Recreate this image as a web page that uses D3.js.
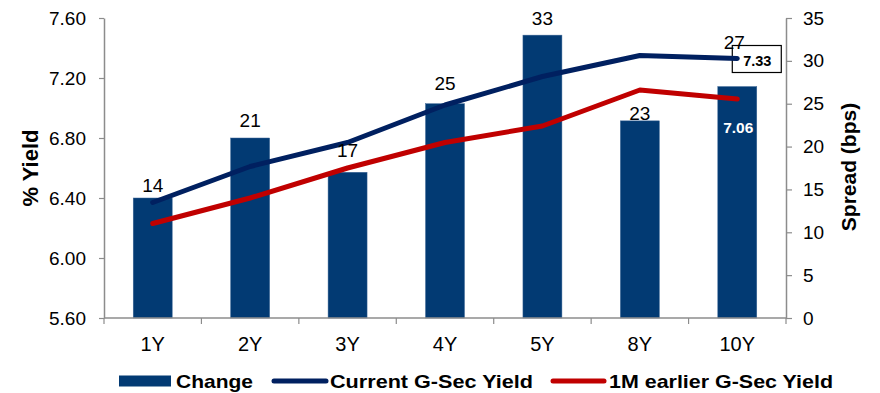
<!DOCTYPE html>
<html>
<head>
<meta charset="utf-8">
<script src="https://cdn.jsdelivr.net/npm/d3@7"></script>
<style>
  html, body { margin: 0; padding: 0; background: #fff; }
  svg { display: block; font-family: "Liberation Sans", Arial, sans-serif; }
</style>
</head>
<body>
<svg id="chart" width="880" height="393"></svg>
<script>
// Tenors along the yield curve
const tenors = ["1Y", "2Y", "3Y", "4Y", "5Y", "8Y", "10Y"];
// Change in yield over the month, basis points (bars, right axis)
const spreadBps = [14, 21, 17, 25, 33, 23, 27];
// Current G-Sec yields, % (left axis)
const currentYield = [6.37, 6.61, 6.77, 7.02, 7.21, 7.35, 7.33];
// G-Sec yields one month earlier, % (left axis)
const earlierYield = [6.23, 6.40, 6.60, 6.77, 6.88, 7.12, 7.06];
// Axis ticks
const yieldTicks = [5.60, 6.00, 6.40, 6.80, 7.20, 7.60];
const spreadTicks = [0, 5, 10, 15, 20, 25, 30, 35];
// Vertical nudges (px) for the bar value labels
const labelGap = [13, 18, 22, 21, 17, 8, 45];

const colBar = "#023a73", colCur = "#002060", colPrev = "#c00000", colAxis = "#8c8c8c";
const FONT = "Liberation Sans, Arial, sans-serif";

const svg = d3.select("#chart");
const plotL = 104, plotR = 786, plotT = 18, plotB = 318;

const x = d3.scaleBand().domain(tenors).range([plotL, plotR]).padding(0);
const yL = d3.scaleLinear().domain([5.6, 7.6]).range([plotB, plotT]);
const yR = d3.scaleLinear().domain([0, 35]).range([plotB, plotT]);
const bw = x.bandwidth();
const cx = t => x(t) + bw / 2;

// Bars
svg.append("g").selectAll("rect").data(tenors).join("rect")
  .attr("x", t => cx(t) - bw * 0.2)
  .attr("width", bw * 0.4)
  .attr("y", (t, i) => yR(spreadBps[i]))
  .attr("height", (t, i) => yR(0) - yR(spreadBps[i]))
  .attr("fill", colBar)
  .attr("stroke", "#3d6696").attr("stroke-width", 0.5);

// Left axis
const axL = svg.append("g").attr("transform", `translate(${plotL},0)`)
  .call(d3.axisLeft(yL).tickValues(yieldTicks).tickFormat(d3.format(".2f")).tickSize(5).tickSizeOuter(0).tickPadding(13));
// Right axis
const axR = svg.append("g").attr("transform", `translate(${plotR},0)`)
  .call(d3.axisRight(yR).tickValues(spreadTicks).tickSize(6).tickSizeOuter(0).tickPadding(11));
[axL, axR].forEach(a => {
  a.select(".domain").attr("stroke", colAxis).attr("stroke-width", 1.5);
  a.selectAll(".tick line").attr("stroke", colAxis).attr("stroke-width", 1.2);
  a.selectAll(".tick text").attr("fill", "#000").style("font-size", "19px").style("font-family", FONT);
});

// Bottom axis: category labels plus boundary ticks
const axB = svg.append("g").attr("transform", `translate(0,${plotB})`)
  .call(d3.axisBottom(x).tickSize(0).tickPadding(19));
axB.select(".domain").remove();
axB.selectAll(".tick text").attr("fill", "#000").style("font-size", "20px").style("font-family", FONT);
svg.append("line").attr("x1", plotL).attr("x2", plotR + 1).attr("y1", plotB).attr("y2", plotB)
  .attr("stroke", colAxis).attr("stroke-width", 1.5);
const bounds = tenors.map(t => x(t)).concat([plotR]);
svg.append("g").selectAll("line").data(bounds).join("line")
  .attr("x1", d => d).attr("x2", d => d).attr("y1", plotB).attr("y2", plotB + 6)
  .attr("stroke", colAxis).attr("stroke-width", 1.2);

// Axis titles
svg.append("text").attr("transform", `translate(38,${(plotT + plotB) / 2}) rotate(-90)`)
  .attr("text-anchor", "middle").attr("font-weight", "bold").attr("font-size", 22).text("% Yield");
svg.append("text").attr("transform", `translate(856,${(plotT + plotB) / 2 - 1}) rotate(-90)`)
  .attr("text-anchor", "middle").attr("font-weight", "bold").attr("font-size", 21).text("Spread (bps)");

// Box label for the current 10Y yield (behind the line end)
const lastI = tenors.length - 1;
svg.append("rect").attr("x", cx(tenors[lastI]) - 5).attr("y", yL(currentYield[lastI]) - 13)
  .attr("width", 49).attr("height", 27).attr("fill", "#fff").attr("stroke", "#000").attr("stroke-width", 1.2);

// Yield lines
const line = arr => d3.line().x((d, i) => cx(tenors[i])).y(d => yL(d))(arr);
svg.append("path").attr("d", line(earlierYield)).attr("fill", "none")
  .attr("stroke", colPrev).attr("stroke-width", 5).attr("stroke-linecap", "round").attr("stroke-linejoin", "round");
svg.append("path").attr("d", line(currentYield)).attr("fill", "none")
  .attr("stroke", colCur).attr("stroke-width", 5).attr("stroke-linecap", "round").attr("stroke-linejoin", "round");

svg.append("text").attr("x", cx(tenors[lastI]) + 20).attr("y", yL(currentYield[lastI]) + 7)
  .attr("text-anchor", "middle").attr("font-weight", "bold").attr("font-size", 14.5)
  .text(currentYield[lastI].toFixed(2));
svg.append("text").attr("x", cx(tenors[lastI]) + 1).attr("y", yL(earlierYield[lastI]) + 34)
  .attr("text-anchor", "middle").attr("font-weight", "bold").attr("font-size", 15.5).attr("fill", "#fff")
  .text(earlierYield[lastI].toFixed(2));

// Bar value labels
svg.append("g").selectAll("text").data(tenors).join("text")
  .attr("x", t => cx(t) - (t === "10Y" ? 3 : 0))
  .attr("y", (t, i) => yR(spreadBps[i]) - labelGap[i] + 7)
  .attr("text-anchor", "middle").attr("font-size", 19)
  .text((t, i) => spreadBps[i]);

// Legend
const lg = svg.append("g").attr("font-weight", "bold").attr("font-size", 19);
const ly = 381;
lg.append("rect").attr("x", 119).attr("y", ly - 5.5).attr("width", 52).attr("height", 11).attr("fill", colBar);
lg.append("text").attr("x", 176).attr("y", ly + 7).attr("textLength", 77).attr("lengthAdjust", "spacingAndGlyphs").text("Change");
lg.append("line").attr("x1", 274).attr("x2", 326).attr("y1", ly).attr("y2", ly)
  .attr("stroke", colCur).attr("stroke-width", 5).attr("stroke-linecap", "round");
lg.append("text").attr("x", 330).attr("y", ly + 7).attr("textLength", 203).attr("lengthAdjust", "spacingAndGlyphs").text("Current G-Sec Yield");
lg.append("line").attr("x1", 553).attr("x2", 604).attr("y1", ly).attr("y2", ly)
  .attr("stroke", colPrev).attr("stroke-width", 5).attr("stroke-linecap", "round");
lg.append("text").attr("x", 609).attr("y", ly + 7).attr("textLength", 224).attr("lengthAdjust", "spacingAndGlyphs").text("1M earlier G-Sec Yield");
</script>
</body>
</html>
